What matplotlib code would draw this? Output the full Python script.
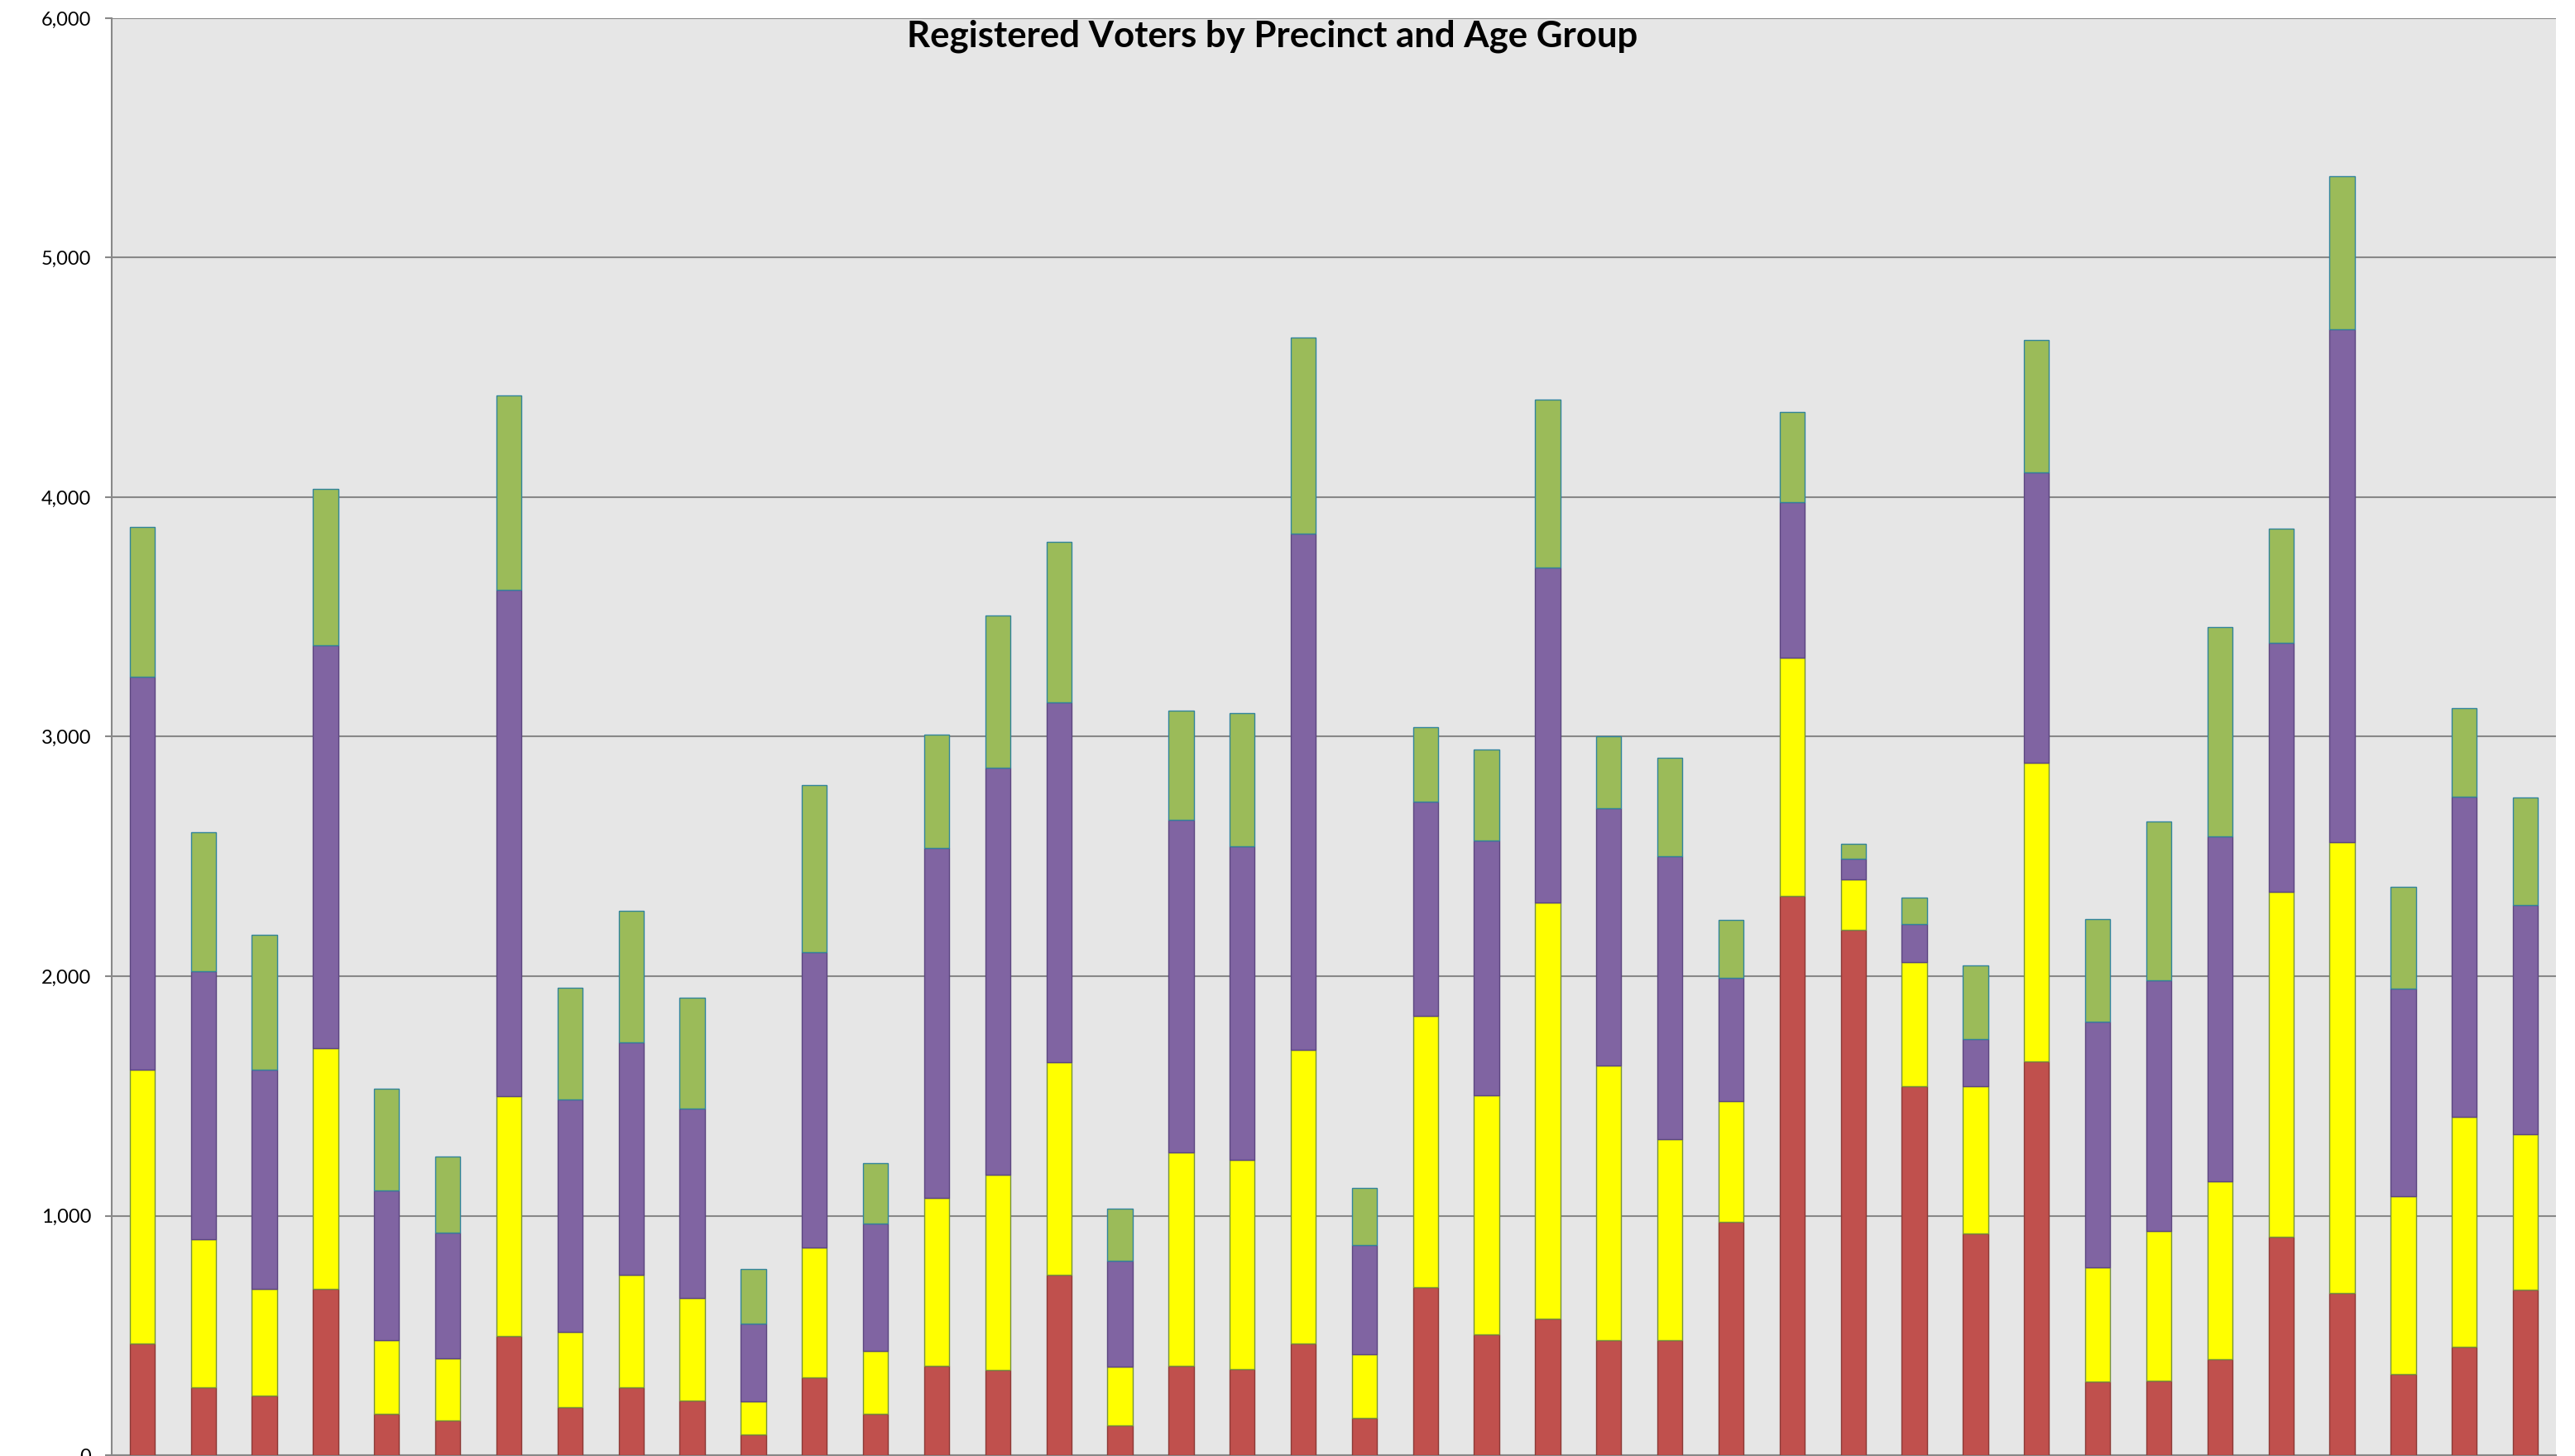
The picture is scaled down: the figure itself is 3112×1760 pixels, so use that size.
import matplotlib
matplotlib.use("Agg")
import matplotlib.pyplot as plt
from matplotlib.ticker import FuncFormatter, MultipleLocator
import numpy as np

# ---- data -------------------------------------------------------------
precincts = [f"Precinct {i}" for i in range(1, 41)]
series_names = ["18-29", "30-44", "45-64", "65+"]

age_18_29 = [467, 284, 248, 694, 171, 144, 497, 200, 284, 227,
             87, 323, 171, 372, 357, 754, 124, 372, 360, 465,
             155, 701, 503, 571, 481, 481, 974, 2336, 2194, 1539,
             925, 1644, 307, 310, 400, 912, 677, 337, 453, 691]
age_30_44 = [1142, 616, 446, 1005, 308, 260, 1002, 315, 470, 431,
             137, 544, 263, 702, 813, 887, 245, 891, 872, 1229,
             267, 1133, 999, 1737, 1145, 838, 503, 993, 211, 518,
             614, 1248, 478, 627, 745, 1440, 1881, 744, 961, 648]
age_45_64 = [1640, 1119, 915, 1684, 625, 526, 2115, 972, 969, 790,
             326, 1233, 534, 1461, 1700, 1502, 444, 1390, 1309, 2153,
             456, 896, 1064, 1397, 1076, 1182, 515, 652, 86, 161,
             198, 1210, 1024, 1046, 1440, 1039, 2144, 868, 1335, 957]
age_65_up = [628, 583, 563, 652, 425, 317, 810, 463, 550, 463,
             228, 697, 251, 475, 636, 670, 217, 456, 559, 819,
             239, 311, 382, 701, 301, 412, 242, 375, 63, 109,
             308, 555, 428, 664, 871, 478, 637, 425, 369, 450]

y_ticks = [0, 1000, 2000, 3000, 4000, 5000, 6000]
title = "Registered Voters by Precinct and Age Group"

# ---- styles -------------------------------------------------------------
face_colors = ["#C0504D", "#FFFF00", "#8064A2", "#9BBB59"]
edge_colors = ["#8C3A37", "#76923C", "#5C4680", "#31849B"]
grid_gray = "#888888"
plot_bg = "#E6E6E6"

W, H, DPI = 3112, 1760, 100
fig = plt.figure(figsize=(W / DPI, H / DPI), dpi=DPI, facecolor="white")
ax = fig.add_axes([135 / W, 1 / H, (3089 - 135) / W, (1759 - 22) / H])
ax.set_facecolor(plot_bg)

x = np.arange(len(precincts))
bottom = np.zeros(len(precincts))
for vals, name, fc, ec in zip([age_18_29, age_30_44, age_45_64, age_65_up],
                              series_names, face_colors, edge_colors):
    v = np.array(vals, dtype=float)
    ax.bar(x, v, width=0.41, bottom=bottom, color=fc, edgecolor=ec,
           linewidth=1.0, label=name, zorder=3)
    bottom += v

ax.set_xlim(-0.5, len(precincts) - 0.5)
ax.set_ylim(0, 6000)
ax.set_yticks(y_ticks)
ax.yaxis.set_major_formatter(FuncFormatter(lambda v, p: f"{int(v):,}"))
ax.set_xticks([])

ax.grid(axis="y", color=grid_gray, linewidth=1.5, zorder=1)
ax.set_axisbelow(True)
for s in ["top", "right"]:
    ax.spines[s].set_visible(False)
for s in ["left", "bottom"]:
    ax.spines[s].set_color(grid_gray)
    ax.spines[s].set_linewidth(1.5)

ax.tick_params(axis="y", direction="out", length=6, width=1.5,
               color=grid_gray, pad=12, labelsize=17, labelcolor="black")
for lab in ax.get_yticklabels():
    lab.set_fontfamily(["Lato", "DejaVu Sans"])

# title, sized to the reference width
t = fig.text(1538 / W, 1 - 57 / H, title, ha="center", va="baseline",
             fontsize=32, fontweight="bold", family=["Lato", "DejaVu Sans"])
fig.canvas.draw()
bb = t.get_window_extent(renderer=fig.canvas.get_renderer())
t.set_fontsize(32 * 885 / bb.width)

fig.savefig("out.png", dpi=DPI, facecolor="white")
